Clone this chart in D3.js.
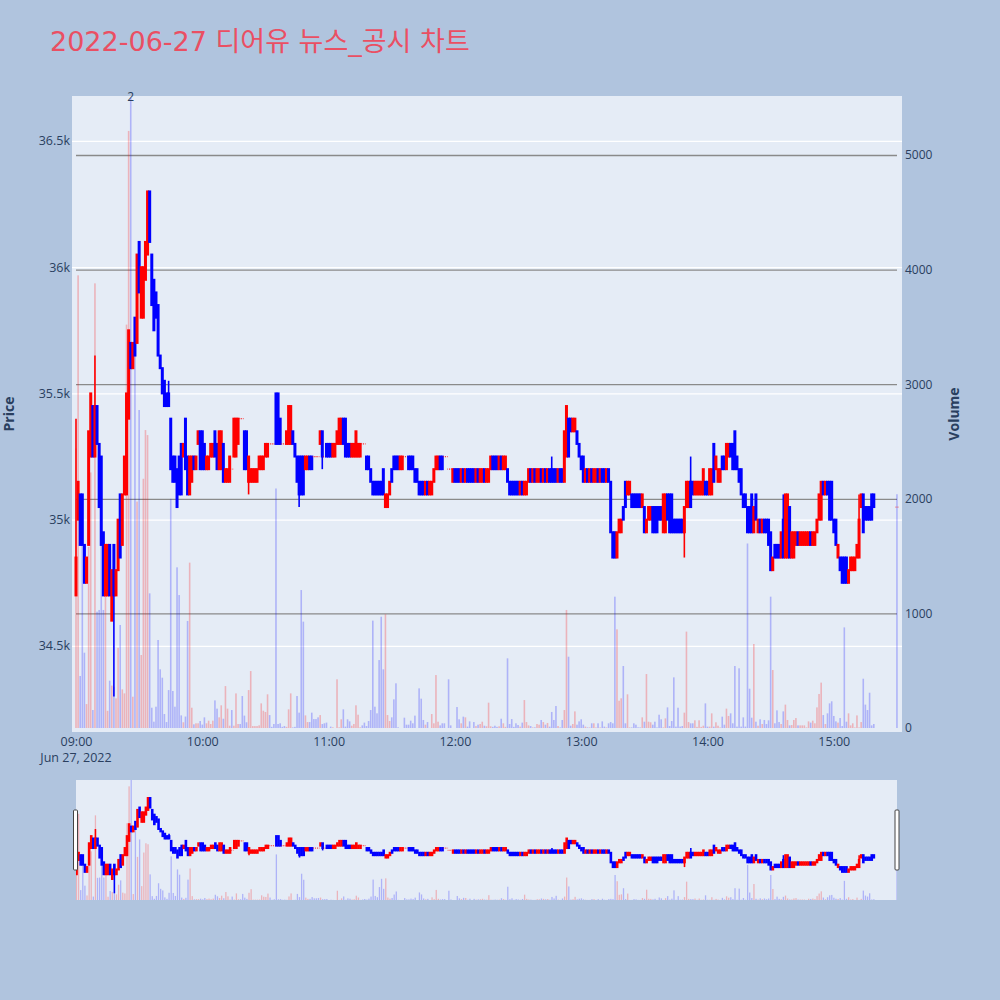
<!DOCTYPE html>
<html><head><meta charset="utf-8">
<script src="https://cdn.jsdelivr.net/npm/d3@7"></script>
<style>body{margin:0;background:#b0c4de;} svg{display:block;}</style>
</head><body>
<svg id="chart" width="1000" height="1000"></svg>
<script>
// ---------- DATA (minute index from 09:00) ----------
const minuteIdx = d3.range(0, 380).concat([390]);
const opens = [
 34700,35000,35100,35100,34900,34750,34900,35250,35450,35250,
 35450,35300,35250,34950,34700,34700,34900,34600,34900,34700,
 34800,35100,34900,35100,35100,35400,35700,35600,35800,35700,
 36100,35800,35800,35950,36050,36300,36050,35950,35900,35850,
 35650,35600,35550,35500,35500,35400,35250,35250,35200,35250,
 35300,35250,35400,35250,35100,35150,35250,35200,35300,35350,
 35350,35300,35200,35200,35250,35250,35350,35300,35200,35200,
 35300,35150,35150,35150,35200,35250,35250,35300,35400,35400,
 35350,35350,35150,35150,35150,35150,35150,35200,35200,35200,
 35250,35250,35300,35300,35300,35500,35500,35400,35300,35300,
 35300,35300,35300,35350,35300,35250,35250,35250,35250,35200,
 35200,35250,35250,35250,35250,35250,35300,35350,35250,35300,
 35300,35300,35250,35250,35300,35300,35300,35400,35400,35300,
 35300,35250,35250,35250,35250,35250,35300,35300,35250,35250,
 35200,35150,35150,35150,35150,35150,35200,35050,35050,35100,
 35200,35250,35250,35250,35200,35200,35250,35250,35250,35250,
 35250,35200,35200,35150,35150,35150,35100,35150,35100,35100,
 35150,35200,35200,35250,35250,35250,35250,35200,35200,35150,
 35200,35200,35200,35150,35200,35150,35200,35200,35200,35200,
 35150,35200,35150,35150,35200,35150,35150,35200,35250,35250,
 35250,35200,35250,35200,35200,35200,35150,35150,35150,35150,
 35150,35100,35150,35100,35100,35150,35200,35150,35200,35150,
 35150,35200,35150,35200,35150,35200,35200,35200,35200,35150,
 35200,35200,35150,35250,35400,35400,35350,35350,35350,35300,
 35250,35250,35150,35200,35150,35200,35150,35150,35200,35150,
 35200,35200,35150,35200,35150,34950,34950,34850,34950,34950,
 35050,35150,35100,35100,35100,35100,35100,35100,35100,35050,
 35050,34950,35000,35000,35050,35050,35050,35050,35050,34950,
 34950,35100,35100,35100,35000,35000,35000,35000,35000,34950,
 35050,35050,35150,35150,35100,35100,35100,35100,35100,35150,
 35150,35100,35100,35300,35200,35150,35150,35250,35250,35200,
 35250,35300,35300,35350,35250,35200,35200,35100,35100,35050,
 35050,35100,34950,35100,34950,35000,34950,35000,35000,35000,
 34950,34800,34900,34900,34900,34850,35000,34850,34850,35050,
 34850,34850,34900,34950,34900,34900,34900,34900,34900,34950,
 34900,34900,34950,35000,35000,35150,35100,35150,35150,35150,
 35000,35000,34850,34850,34850,34850,34850,34750,34800,34800,
 34800,34850,34850,35050,35100,35050,35050,35050,35100,35100,
 35050];
const closes = [
 34850,35150,34900,34900,34750,34850,35350,35500,35250,35450,
 35300,35050,34900,34700,34900,34900,34700,34800,34700,34800,
 35000,34850,35100,35250,35500,35750,35600,35700,35650,36050,
 35900,36000,36000,36100,36300,36100,35850,35750,35800,35650,
 35600,35500,35450,35450,35450,35200,35150,35150,35050,35100,
 35100,35300,35200,35100,35250,35250,35200,35250,35350,35200,
 35200,35200,35250,35250,35300,35300,35250,35200,35350,35350,
 35150,35200,35200,35250,35200,35400,35400,35400,35400,35400,
 35200,35200,35250,35200,35200,35200,35200,35250,35250,35250,
 35300,35300,35300,35300,35300,35300,35300,35300,35300,35300,
 35350,35450,35450,35300,35250,35150,35100,35100,35100,35250,
 35250,35200,35200,35250,35250,35250,35350,35250,35250,35250,
 35250,35250,35300,35300,35350,35400,35400,35300,35250,35250,
 35250,35300,35300,35350,35300,35300,35300,35300,35200,35200,
 35150,35100,35100,35100,35100,35100,35100,35100,35100,35150,
 35150,35200,35200,35200,35250,35250,35250,35250,35200,35200,
 35200,35150,35150,35100,35100,35100,35150,35100,35150,35150,
 35200,35250,35250,35200,35200,35250,35250,35200,35200,35200,
 35150,35150,35150,35200,35150,35200,35150,35150,35150,35150,
 35200,35150,35200,35200,35150,35200,35200,35250,35200,35200,
 35200,35250,35200,35250,35250,35150,35100,35100,35100,35100,
 35100,35150,35100,35150,35150,35200,35150,35200,35150,35200,
 35200,35150,35200,35150,35200,35150,35150,35150,35150,35200,
 35150,35150,35350,35450,35250,35350,35400,35400,35300,35250,
 35200,35150,35200,35150,35200,35150,35200,35200,35150,35200,
 35150,35150,35200,35150,34950,34850,34850,34950,35000,35000,
 35000,35050,35150,35150,35050,35050,35050,35050,35050,35100,
 34950,35000,35050,35050,34950,34950,34950,35000,35000,35100,
 35100,35000,34950,34950,34950,34950,34950,34950,34950,35050,
 35150,35150,35050,35100,35150,35150,35150,35150,35200,35100,
 35100,35200,35200,35150,35250,35200,35200,35200,35200,35300,
 35300,35250,35200,35200,35200,35150,35100,35050,35050,34950,
 34950,34950,35050,35000,35000,34950,35000,34950,34950,34900,
 34800,34850,34850,34850,34850,34950,34850,35100,35100,34850,
 34950,34950,34950,34900,34950,34950,34950,34950,34950,34900,
 34950,34950,35000,35100,35150,35100,35150,35100,35000,35000,
 34950,34900,34900,34800,34750,34750,34750,34800,34850,34850,
 34850,34900,35000,35100,34950,35000,35000,35000,35000,35050,
 35050];
// wicks beyond the body: [minute, price]
const highWicks = [[0,35400],[9,35650],[44,35550],[226,35250],[292,35250],[336,35100],[372,35100]];
const lowWicks  = [[18,34300],[82,35100],[106,35050],[117,35200],[289,34850]];
const volumes = [
 2440,3950,454,1600,657,209,1580,2230,157,3880,
 1015,1030,1700,1030,1600,150,413,370,360,259,
 700,899,337,302,3520,5210,5500,273,3450,1976,
 2775,637,2175,2600,2556,1175,177,55,186,768,
 512,439,122,52,331,2000,323,186,1402,1160,
 110,50,100,934,1443,177,32,41,41,61,
 30,93,41,64,35,64,241,169,93,198,
 81,366,169,20,157,20,302,35,35,279,
 108,50,331,497,17,17,17,23,215,151,
 140,294,113,10,35,2090,35,41,10,17,
 10,163,302,5,10,279,134,1204,928,110,
 52,52,134,78,78,93,113,35,41,47,
 0,12,6,0,425,6,76,163,12,76,
 58,20,35,198,116,6,23,47,17,61,
 157,937,186,128,593,971,512,992,113,61,
 93,250,390,6,0,0,90,29,29,64,
 41,108,0,346,256,70,29,52,0,122,
 41,462,55,23,41,41,0,425,23,0,
 0,183,76,41,99,93,12,58,0,52,
 17,29,35,55,20,15,221,15,10,20,
 10,15,81,41,10,608,35,78,10,41,
 26,12,47,244,52,23,17,5,6,35,
 29,70,52,29,44,12,140,70,192,17,
 5,70,157,1030,622,20,35,145,29,58,
 76,29,12,5,5,41,41,5,41,5,
 58,12,5,41,52,41,1146,861,238,259,
 541,41,294,5,5,41,29,6,5,93,
 55,471,55,50,29,55,5,116,76,5,
 84,180,17,61,442,12,177,12,17,134,
 841,52,41,41,67,10,67,10,20,215,
 12,12,128,12,50,20,5,99,29,169,
 105,128,41,541,12,521,12,93,12,1610,
 343,90,733,55,20,76,35,70,35,67,
 1146,506,41,154,52,35,145,204,70,23,
 26,70,87,23,23,23,23,5,58,47,
 64,41,180,297,396,113,35,128,215,233,
 105,58,47,87,17,878,55,128,23,41,
 5,110,5,52,430,204,157,308,23,35,
 2040];
const newsMarks = [{minute: 26, count: "2"}];
const priceTicks = [34500, 35000, 35500, 36000, 36500];
const volumeTicks = [0, 1000, 2000, 3000, 4000, 5000];
const hourTicks = [9, 10, 11, 12, 13, 14, 15];
const titleText = "2022-06-27 디어유 뉴스_공시 차트";
const dateLabel = "Jun 27, 2022";

// ---------- BUILD ----------
const t0 = new Date(2022, 5, 27, 9, 0, 0);
const tAt = m => new Date(t0.getTime() + m * 60000);
const hw = new Map(highWicks), lw = new Map(lowWicks);
const candles = minuteIdx.map((m, i) => {
  const o = opens[i], c = closes[i];
  return {t: tAt(m), o, c, v: volumes[i],
    h: Math.max(o, c, hw.get(m) || 0),
    l: Math.min(o, c, lw.get(m) || 1e9),
    dir: c > o ? 1 : (c < o ? -1 : 0)};
});

const RED = "#ff0000", BLUE = "#0000ff";
const FONT = "'Open Sans', 'Noto Sans CJK KR', sans-serif";
const TXT = "#2a3f5f";
const svg = d3.select("#chart");

const P = {l: 72, r: 902, t: 96, b: 732};
const x = d3.scaleTime().domain([tAt(-1.9), tAt(392.4)]).range([P.l, P.r]);
const yP = d3.scaleLinear().domain([34159, 36678]).range([P.b, P.t]);
const yV = d3.scaleLinear().domain([0, 5000]).range([728, 155]);

// title
svg.append("text").attr("x", 50).attr("y", 51).attr("fill", "#ea4f63")
  .style("font-family", "'DejaVu Sans', 'Noto Sans CJK KR', sans-serif").style("font-size", "27px")
  .text(titleText);

svg.append("rect").attr("x", P.l).attr("y", P.t).attr("width", P.r - P.l).attr("height", P.b - P.t).attr("fill", "#e5ecf6");
svg.append("clipPath").attr("id", "clipMain").append("rect")
  .attr("x", P.l).attr("y", P.t).attr("width", P.r - P.l).attr("height", P.b - P.t);

// gridlines
const gY = svg.append("g").attr("transform", `translate(${P.l},0)`)
  .call(d3.axisLeft(yP).tickValues(priceTicks).tickSize(-(P.r - P.l)).tickFormat(d => (d / 1000) + "k"));
gY.select(".domain").remove();
gY.selectAll("line").attr("stroke", "#ffffff").attr("stroke-width", 1.3);
gY.selectAll("text").attr("x", -2).attr("fill", TXT).style("font-family", FONT).style("font-size", "12.5px");

const gV = svg.append("g").attr("transform", `translate(${P.r},0)`)
  .call(d3.axisRight(yV).tickValues(volumeTicks).tickSize(-(P.r - P.l - 4)).tickFormat(d3.format("d")));
gV.select(".domain").remove();
gV.selectAll("line").attr("stroke", "#8a8a8a").attr("stroke-width", 1.3).attr("x1", -(P.r - 76)).attr("x2", -5)
  .attr("opacity", d => d === 0 ? 0 : 1);
gV.selectAll("text").attr("x", 3).attr("fill", TXT).style("font-family", FONT).style("font-size", "12px");

const main = svg.append("g").attr("clip-path", "url(#clipMain)");

function drawVolume(g, xf, yf, y0, w) {
  g.selectAll(null).data(candles).join("rect")
    .attr("x", d => xf(d.t) - w / 2).attr("width", w)
    .attr("y", d => yf(d.v)).attr("height", d => Math.max(0, y0 - yf(d.v)))
    .attr("fill", d => d.dir > 0 ? RED : BLUE).attr("fill-opacity", 0.24);
}
function drawCandles(g, xf, yf, bw, pad) {
  candles.forEach(d => {
    const cx = xf(d.t);
    const col = d.dir > 0 ? RED : BLUE;
    if (d.dir === 0) {
      g.append("line").attr("x1", cx - bw / 2).attr("x2", cx + bw / 2)
        .attr("y1", yf(d.o)).attr("y2", yf(d.o))
        .attr("stroke", RED).attr("stroke-opacity", 0.55).attr("stroke-width", 1.2)
        .attr("stroke-dasharray", "1,1");
      return;
    }
    const top = yf(Math.max(d.o, d.c)), bot = yf(Math.min(d.o, d.c));
    if (d.h > Math.max(d.o, d.c) || d.l < Math.min(d.o, d.c)) {
      g.append("line").attr("x1", cx).attr("x2", cx).attr("y1", yf(d.h)).attr("y2", yf(d.l))
        .attr("stroke", col).attr("stroke-width", 1.6);
    }
    g.append("rect").attr("x", cx - bw / 2).attr("width", bw)
      .attr("y", top - pad).attr("height", Math.max(1, bot - top) + 2 * pad).attr("fill", col);
  });
}
drawVolume(main.append("g"), x, yV, 728, 1.6);
drawCandles(main.append("g"), x, yP, 3.0, 1);

// news annotation
svg.selectAll(null).data(newsMarks).join("text")
  .attr("x", d => x(tAt(d.minute))).attr("y", 101).attr("text-anchor", "middle")
  .attr("fill", TXT).style("font-family", FONT).style("font-size", "12px").text(d => d.count);

// x axis
const gX = svg.append("g").attr("transform", `translate(0,${P.b})`)
  .call(d3.axisBottom(x).tickValues(hourTicks.map(h => new Date(2022, 5, 27, h, 0))).tickSize(0).tickFormat(d3.timeFormat("%H:%M")));
gX.select(".domain").remove();
gX.selectAll("text").attr("y", 5).attr("fill", TXT).style("font-family", FONT).style("font-size", "12.5px");
svg.append("text").attr("x", x(t0)).attr("y", 762).attr("text-anchor", "middle").attr("fill", TXT)
  .style("font-family", FONT).style("font-size", "12.5px").text(dateLabel);

// axis titles
svg.append("text").attr("transform", "translate(14,414) rotate(-90)").attr("text-anchor", "middle")
  .attr("fill", TXT).style("font-family", FONT).style("font-size", "14px").style("font-weight", "bold").text("Price");
svg.append("text").attr("transform", "translate(959,414) rotate(-90)").attr("text-anchor", "middle")
  .attr("fill", TXT).style("font-family", FONT).style("font-size", "14px").style("font-weight", "bold").text("Volume");

// range slider
const S = {l: 76, r: 897, t: 780, b: 900};
svg.append("rect").attr("x", S.l).attr("y", S.t).attr("width", S.r - S.l).attr("height", S.b - S.t).attr("fill", "#e5ecf6");
svg.append("clipPath").attr("id", "clipS").append("rect")
  .attr("x", S.l).attr("y", S.t).attr("width", S.r - S.l).attr("height", S.b - S.t);
const xs = d3.scaleTime().domain([tAt(0), tAt(390)]).range([S.l + 0.5, S.r]);
const ysP = d3.scaleLinear().domain([34159, 36678]).range([S.b, S.t]);
const ysV = d3.scaleLinear().domain([0, 5500]).range([S.b, S.t]);
const sg = svg.append("g").attr("clip-path", "url(#clipS)");
drawVolume(sg.append("g"), xs, ysV, S.b, 1.3);
drawCandles(sg.append("g"), xs, ysP, 2.6, 1);
[S.l - 2.5, S.r - 2].forEach(hx => {
  svg.append("rect").attr("x", hx).attr("y", 810).attr("width", 4).attr("height", 60).attr("rx", 1)
    .attr("fill", "#fff").attr("stroke", "#444").attr("stroke-width", 1);
});
</script>
</body></html>
